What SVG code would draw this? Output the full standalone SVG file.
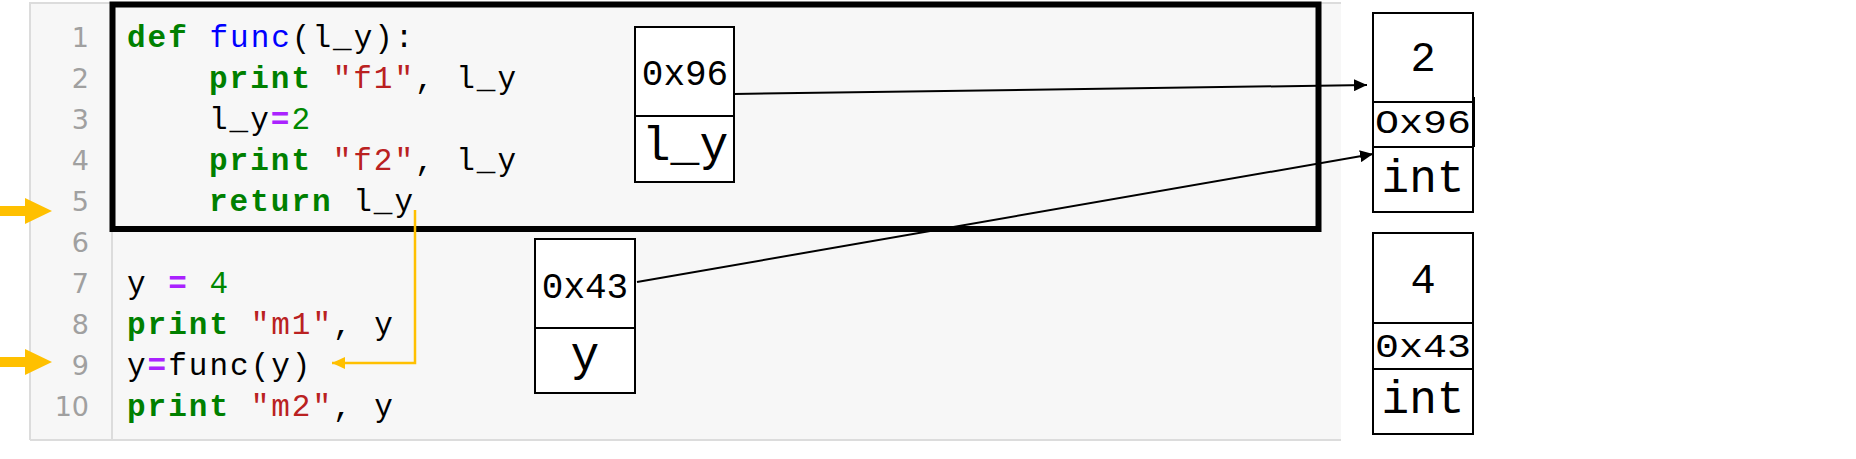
<svg xmlns="http://www.w3.org/2000/svg" width="1856" height="459" viewBox="0 0 1856 459">
<style>
.ln{font-family:"DejaVu Sans",Verdana,sans-serif;font-size:27px;fill:#a0a0a0;text-anchor:end}
.code{font-family:"Liberation Mono","Courier New",monospace;font-size:31px;letter-spacing:2px;fill:#000}
.kw{fill:#008000;font-weight:bold}
.fn{fill:#0000ff}
.st{fill:#ba2121}
.op{fill:#aa22ff;font-weight:bold}
.nm{fill:#008800}
.box{fill:#fff;stroke:#000;stroke-width:2}
.bt{font-family:"Liberation Mono","Courier New",monospace;fill:#000;text-anchor:middle}
.conn{stroke:#000;stroke-width:2;fill:none}
.ycon{stroke:#ffc000;stroke-width:2.5;fill:none}
</style>
<defs>
<marker id="ah" markerUnits="userSpaceOnUse" markerWidth="14" markerHeight="12" refX="13" refY="6" orient="auto">
<path d="M0,0 L13,6 L0,12 Z" fill="#000"/>
</marker>
<marker id="yah" markerUnits="userSpaceOnUse" markerWidth="14" markerHeight="12" refX="13" refY="6" orient="auto">
<path d="M0,0 L13,6 L0,12 Z" fill="#ffc000"/>
</marker>
</defs>
<rect width="1856" height="459" fill="#fff"/>
<g id="code-panel">
<rect x="30" y="3" width="1311" height="437" fill="#f7f7f7"/>
<path d="M30,440 V3 H1341 M30,440 H1341" stroke="#dcdcdc" stroke-width="2" fill="none"/>
<line x1="112" y1="3" x2="112" y2="440" stroke="#dcdcdc" stroke-width="2"/>
<text class="ln" x="89" y="47">1</text>
<text class="ln" x="89" y="88">2</text>
<text class="ln" x="89" y="129">3</text>
<text class="ln" x="89" y="170">4</text>
<text class="ln" x="89" y="211">5</text>
<text class="ln" x="89" y="252">6</text>
<text class="ln" x="89" y="293">7</text>
<text class="ln" x="89" y="334">8</text>
<text class="ln" x="89" y="375">9</text>
<text class="ln" x="89" y="416">10</text>
<text class="code" x="127" y="47" xml:space="preserve"><tspan class="kw">def</tspan> <tspan class="fn">func</tspan>(l_y):</text>
<text class="code" x="209" y="88" xml:space="preserve"><tspan class="kw">print</tspan> <tspan class="st">"f1"</tspan>, l_y</text>
<text class="code" x="209" y="129" xml:space="preserve">l_y<tspan class="op">=</tspan><tspan class="nm">2</tspan></text>
<text class="code" x="209" y="170" xml:space="preserve"><tspan class="kw">print</tspan> <tspan class="st">"f2"</tspan>, l_y</text>
<text class="code" x="209" y="211" xml:space="preserve"><tspan class="kw">return</tspan> l_y</text>
<text class="code" x="127" y="293" xml:space="preserve">y <tspan class="op">=</tspan> <tspan class="nm">4</tspan></text>
<text class="code" x="127" y="334" xml:space="preserve"><tspan class="kw">print</tspan> <tspan class="st">"m1"</tspan>, y</text>
<text class="code" x="127" y="375" xml:space="preserve">y<tspan class="op">=</tspan>func(y)</text>
<text class="code" x="127" y="416" xml:space="preserve"><tspan class="kw">print</tspan> <tspan class="st">"m2"</tspan>, y</text>
</g>
<g id="func-frame">
<rect x="112.5" y="4.5" width="1206" height="224.5" fill="none" stroke="#000" stroke-width="6"/>
</g>
<g id="step-arrows">
<polygon points="0,206 25,206 25,198 52,211 25,224 25,216 0,216" fill="#ffc000"/>
<polygon points="0,357 25,357 25,349 52,362 25,375 25,367 0,367" fill="#ffc000"/>
</g>
<g id="var-l_y">
<rect class="box" x="635" y="27" width="99" height="155"/>
<line class="conn" x1="635" y1="116" x2="734" y2="116"/>
<text class="bt" x="685" y="85" font-size="36">0x96</text>
<text class="bt" x="685" y="160" font-size="48">l_y</text>
</g>
<g id="var-y">
<rect class="box" x="535" y="239" width="100" height="154"/>
<line class="conn" x1="535" y1="328" x2="635" y2="328"/>
<text class="bt" x="585" y="298" font-size="36">0x43</text>
<text class="bt" x="585" y="370" font-size="48">y</text>
</g>
<g id="obj-2">
<rect class="box" x="1373" y="13" width="100" height="199"/>
<line class="conn" x1="1373" y1="102" x2="1474" y2="102"/>
<line class="conn" x1="1373" y1="147" x2="1474" y2="147"/>
<line class="conn" x1="1474" y1="97" x2="1474" y2="147"/>
<text class="bt" x="1423" y="71" font-size="42">2</text>
<text class="bt" x="1423" y="133" font-size="33" textLength="96" lengthAdjust="spacingAndGlyphs">Ox96</text>
<text class="bt" x="1423" y="192" font-size="46">int</text>
</g>
<g id="obj-4">
<rect class="box" x="1373" y="233" width="100" height="201"/>
<line class="conn" x1="1373" y1="323" x2="1473" y2="323"/>
<line class="conn" x1="1373" y1="369" x2="1473" y2="369"/>
<text class="bt" x="1423" y="293" font-size="42">4</text>
<text class="bt" x="1423" y="357" font-size="33" textLength="96" lengthAdjust="spacingAndGlyphs">0x43</text>
<text class="bt" x="1423" y="413" font-size="46">int</text>
</g>
<g id="connectors">
<path class="conn" d="M734,94 L1367,85" marker-end="url(#ah)"/>
<path class="conn" d="M637,282 L1373,154" marker-end="url(#ah)"/>
<path class="ycon" d="M415,210 V363 H332" marker-end="url(#yah)"/>
</g>
</svg>
